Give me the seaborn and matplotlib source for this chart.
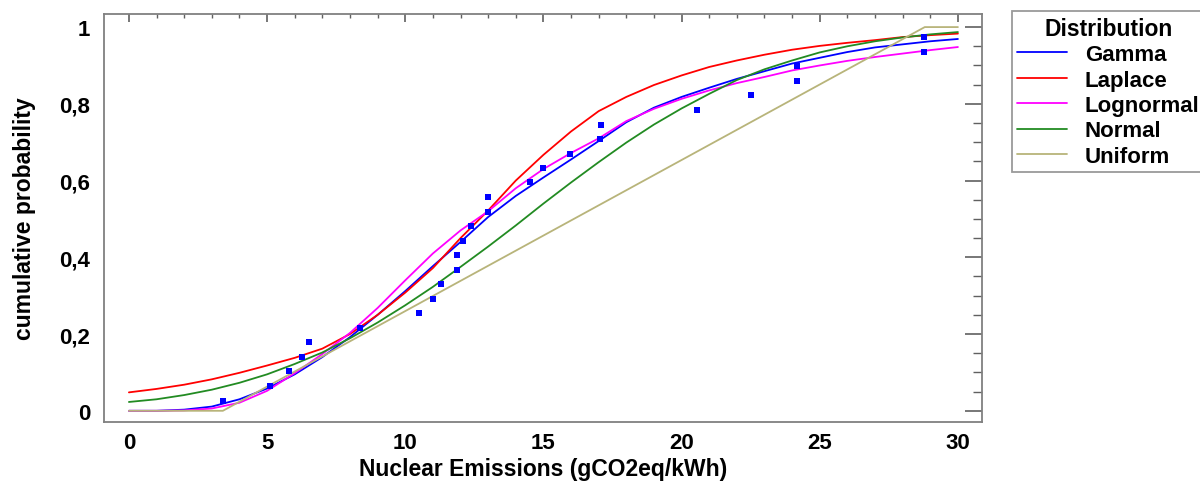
import numpy as np
import pandas as pd
import matplotlib
matplotlib.use("Agg")
import matplotlib.pyplot as plt
import matplotlib.ticker as mticker
import seaborn as sns

# ---- data ----
obs_x = [3.4, 5.1, 5.8, 6.26, 6.5, 8.36, 10.5, 11.0, 11.28, 11.86, 11.86, 12.09, 12.38,
         12.99, 12.99, 14.51, 14.99, 15.98, 17.05, 17.08, 20.56, 22.5, 24.19, 24.19, 28.79, 28.79]
obs_y = [0.026, 0.065, 0.103, 0.141, 0.178, 0.216, 0.254, 0.292, 0.330, 0.367, 0.405, 0.443,
         0.481, 0.519, 0.557, 0.595, 0.633, 0.670, 0.708, 0.746, 0.784, 0.822, 0.859, 0.898,
         0.936, 0.974]

grid_x = list(range(0, 31))
gamma_y = [0.0, 0.0, 0.003, 0.011, 0.030, 0.058, 0.095, 0.140, 0.192, 0.250, 0.312, 0.377,
           0.440, 0.505, 0.560, 0.608, 0.655, 0.703, 0.752, 0.790, 0.818, 0.842, 0.865, 0.885,
           0.905, 0.920, 0.935, 0.947, 0.955, 0.963, 0.969]
laplace_y = [0.048, 0.057, 0.068, 0.082, 0.099, 0.118, 0.138, 0.162, 0.200, 0.250, 0.308,
             0.372, 0.450, 0.522, 0.600, 0.667, 0.728, 0.781, 0.818, 0.849, 0.874, 0.896,
             0.913, 0.928, 0.941, 0.951, 0.959, 0.966, 0.974, 0.979, 0.983]
lognormal_y = [0.0, 0.0, 0.001, 0.006, 0.021, 0.052, 0.098, 0.148, 0.203, 0.268, 0.340,
               0.410, 0.470, 0.520, 0.580, 0.630, 0.672, 0.710, 0.755, 0.787, 0.813, 0.835,
               0.854, 0.870, 0.887, 0.900, 0.912, 0.922, 0.931, 0.940, 0.948]
normal_y = [0.023, 0.030, 0.041, 0.055, 0.073, 0.095, 0.122, 0.152, 0.189, 0.230, 0.275,
            0.323, 0.375, 0.428, 0.483, 0.540, 0.595, 0.648, 0.699, 0.746, 0.788, 0.826,
            0.862, 0.890, 0.913, 0.934, 0.950, 0.963, 0.973, 0.981, 0.987]
uniform_x = [0, 3.4, 28.8, 30]
uniform_y = [0, 0, 1, 1]

dist_names = ["Gamma", "Laplace", "Lognormal", "Normal", "Uniform"]
dist_colors = ["#0000ff", "#ff0000", "#ff00ff", "#228b22", "#b8b47a"]

# ---- build long table ----
frames = []
for name, ys in zip(["Gamma", "Laplace", "Lognormal", "Normal"],
                    [gamma_y, laplace_y, lognormal_y, normal_y]):
    frames.append(pd.DataFrame({"x": grid_x, "y": ys, "Distribution": name}))
frames.append(pd.DataFrame({"x": uniform_x, "y": uniform_y, "Distribution": "Uniform"}))
curves = pd.concat(frames, ignore_index=True)
points = pd.DataFrame({"x": obs_x, "y": obs_y})

sns.set_theme(style="white")
plt.rcParams["font.family"] = ["Liberation Sans", "DejaVu Sans"]
plt.rcParams["font.weight"] = "bold"
plt.rcParams["text.color"] = "black"
plt.rcParams["axes.labelcolor"] = "black"

fig = plt.figure(figsize=(12, 4.85), dpi=100)
ax = fig.add_axes([0.0867, 0.128, 0.7316, 0.841])

sns.lineplot(data=curves, x="x", y="y", hue="Distribution", hue_order=dist_names,
             palette=dict(zip(dist_names, dist_colors)), linewidth=1.3,
             sort=False, estimator=None, ax=ax, legend=True)
sns.scatterplot(data=points, x="x", y="y", color="#0000ff", marker="s", s=14,
                edgecolor="#0000ff", linewidth=0, ax=ax, legend=False, zorder=5)

ax.set_xlim(-0.9, 30.87)
ax.set_ylim(-0.029, 1.034)
ax.xaxis.set_major_locator(mticker.MultipleLocator(5))
ax.xaxis.set_minor_locator(mticker.MultipleLocator(1))
ax.yaxis.set_major_locator(mticker.MultipleLocator(0.2))
ax.yaxis.set_minor_locator(mticker.MultipleLocator(0.05))
ax.yaxis.set_major_formatter(mticker.FuncFormatter(
    lambda v, p: ("%g" % round(v, 2)).replace(".", ",")))
ax.xaxis.set_major_formatter(mticker.FuncFormatter(lambda v, p: "%g" % v))

ax.tick_params(axis="both", which="both", direction="in", top=True, right=True,
               colors="#606060", labelcolor="black", labelsize=16)
ax.tick_params(axis="y", which="major", length=12, width=1.2, pad=10)
ax.tick_params(axis="y", which="minor", length=6.5, width=1.0)
ax.tick_params(axis="x", which="major", length=6, width=1.2, pad=7)
ax.tick_params(axis="x", which="minor", length=3, width=1.0)
for lab in ax.get_xticklabels() + ax.get_yticklabels():
    lab.set_fontweight("bold")

for sp in ax.spines.values():
    sp.set_color("#808080")
    sp.set_linewidth(1.3)
    sp.set_visible(True)

ax.set_xlabel("Nuclear Emissions (gCO2eq/kWh)", fontsize=16.5, fontweight="bold",
              labelpad=3, color="black")
ax.set_ylabel("cumulative probability", fontsize=16.5, fontweight="bold",
              labelpad=17, color="black")

handles, labels = ax.get_legend_handles_labels()
ax.get_legend().remove()
leg = fig.legend(handles, labels, title="Distribution", loc="upper left",
                 bbox_to_anchor=(0.843, 0.975), fontsize=16, title_fontsize=16.5,
                 frameon=True, fancybox=False, edgecolor="#808080",
                 handlelength=2.25, handletextpad=0.8, labelspacing=0.2,
                 borderpad=0.25, borderaxespad=0)
leg.get_title().set_fontweight("bold")
leg.get_title().set_color("black")
leg.get_frame().set_linewidth(1.3)
for t in leg.get_texts():
    t.set_fontweight("bold")
    t.set_color("black")

fig.savefig("out.png", dpi=100)
